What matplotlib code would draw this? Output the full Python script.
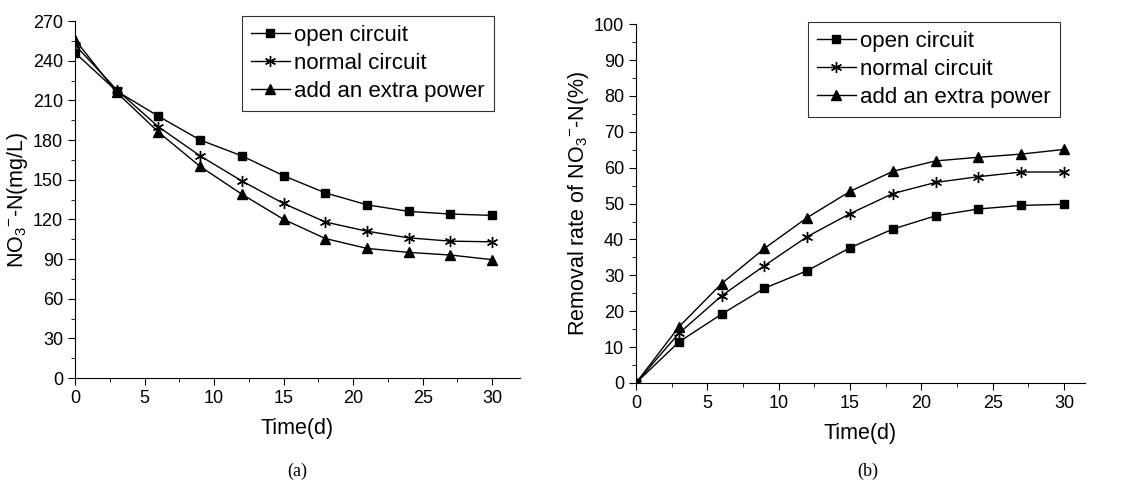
import matplotlib
matplotlib.use("Agg")
import matplotlib.pyplot as plt
from matplotlib.ticker import MultipleLocator

plt.rcParams['font.family'] = ['Liberation Sans', 'DejaVu Sans']
plt.rcParams['mathtext.fontset'] = 'custom'
plt.rcParams['mathtext.rm'] = 'Liberation Sans'
plt.rcParams['mathtext.it'] = 'Liberation Sans'

days = [0, 3, 6, 9, 12, 15, 18, 21, 24, 27, 30]
labels = ["open circuit", "normal circuit", "add an extra power"]

# (a) nitrate concentration, mg/L
conc_open = [246, 217, 198, 180, 168, 153, 140, 131, 126, 124, 123]
conc_normal = [252, 218, 190, 168, 149, 132, 118, 111, 106, 103.5, 103]
conc_extra = [256, 216, 186, 160, 139, 120, 105.5, 98, 95, 93, 89.5]

# (b) removal rate, %
rate_open = [0, 11.4, 19.2, 26.4, 31.3, 37.7, 42.9, 46.6, 48.5, 49.5, 49.8]
rate_normal = [0, 13.8, 24.3, 32.7, 40.8, 47.2, 52.8, 55.9, 57.5, 58.8, 58.8]
rate_extra = [0, 15.6, 27.7, 37.5, 46.1, 53.4, 59.0, 61.9, 62.9, 63.8, 65.1]

markers = ['s', (6, 2, 0), '^']
sizes = [6, 8, 7]

W, H = 1129, 484
fig = plt.figure(figsize=(W / 100, H / 100), dpi=100)
ax1 = fig.add_axes([0.0664, 0.219, 0.3942, 0.7376])
ax2 = fig.add_axes([0.5633, 0.2087, 0.3977, 0.7413])


def draw(ax, series, ylim, ymaj, xmax, ylabel, legbox):
    for ys, m, s, lab in zip(series, markers, sizes, labels):
        ax.plot(days, ys, color='black', lw=1, marker=m, ms=s,
                markeredgewidth=1, label=lab)
    ax.set_xlim(0, xmax)
    ax.set_ylim(*ylim)
    ax.xaxis.set_major_locator(MultipleLocator(5))
    ax.xaxis.set_minor_locator(MultipleLocator(2.5))
    ax.yaxis.set_major_locator(MultipleLocator(ymaj))
    ax.yaxis.set_minor_locator(MultipleLocator(ymaj / 2))
    ax.tick_params(which='major', direction='out', length=5, labelsize=13)
    ax.tick_params(which='minor', direction='out', length=3)
    for sp in ['top', 'right']:
        ax.spines[sp].set_visible(False)
    ax.set_xlabel("Time(d)", fontsize=15.5, labelpad=8)
    ax.set_ylabel(ylabel, fontsize=15.5, labelpad=2)
    # legend box given in pixels (x0, y0_top)
    x0, y0 = legbox
    leg = ax.legend(loc='upper left', bbox_to_anchor=(x0 / W, 1 - y0 / H),
                    bbox_transform=fig.transFigure, fontsize=16,
                    frameon=True, fancybox=False, edgecolor='black',
                    handlelength=1.75, handletextpad=0.2, borderpad=0.4,
                    labelspacing=0.32, borderaxespad=0)
    leg.get_frame().set_linewidth(0.8)
    return leg


draw(ax1, [conc_open, conc_normal, conc_extra], (0, 270), 30, 32,
     r"NO$_3$$^{-}$-N(mg/L)", (242, 16))
draw(ax2, [rate_open, rate_normal, rate_extra], (0, 100), 10, 31.46,
     r"Removal rate of NO$_3$$^{-}$-N(%)", (808, 22))

fig.text(0.263, 0.008, "(a)", ha='center', va='bottom', fontsize=13,
         family=['Liberation Serif'])
fig.text(0.769, 0.008, "(b)", ha='center', va='bottom', fontsize=13,
         family=['Liberation Serif'])

fig.savefig("out.png", dpi=100)
